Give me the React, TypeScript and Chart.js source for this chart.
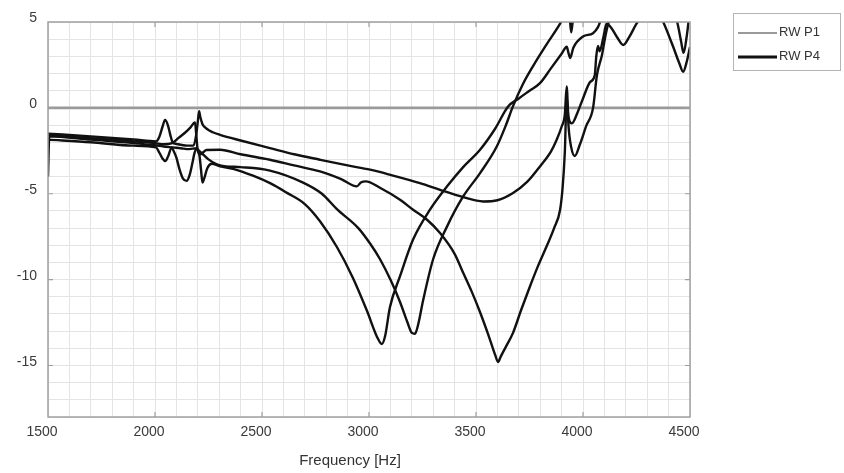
import { useEffect, useRef } from 'react';
import { Chart, registerables } from 'chart.js';

Chart.register(...registerables);

// Reference level (RW P1)
const refHz = [1500, 4500];
const refDb = [0, 0];

// RW P4 measurements, four positions
const curveAHz = [1500, 1506, 1700, 1900, 2000, 2040, 2080, 2120, 2160, 2195, 2208, 2215, 2222, 2230, 2245, 2265, 2304, 2365, 2458, 2540, 2617, 2700, 2771, 2850, 2925, 2990, 3040, 3060, 3075, 3098, 3145, 3206, 3285, 3365, 3440, 3519, 3590, 3650, 3700, 3750, 3799, 3850, 3900, 3924, 3932, 3940, 3955, 4000, 4047, 4070, 4090, 4200, 4350, 4420, 4440, 4458, 4470, 4485, 4495, 4500];
const curveADb = [-4.0, -1.65, -1.85, -2.05, -2.18, -2.25, -2.3, -2.35, -2.4, -2.35, -2.8, -3.6, -4.35, -4.1, -3.5, -3.25, -3.4, -3.55, -3.95, -4.4, -4.95, -5.6, -6.6, -8.1, -9.9, -11.8, -13.4, -13.75, -13.3, -11.6, -9.8, -7.67, -5.93, -4.57, -3.45, -2.44, -1.2, 0.08, 0.55, 1.0, 1.44, 2.3, 3.15, 3.56, 3.2, 2.9, 3.5, 4.15, 4.35, 4.7, 5.3, 6.3, 6.4, 5.6, 5.0, 3.9, 3.2, 4.2, 5.2, 5.6];

const curveBHz = [1500, 1700, 1900, 2005, 2020, 2035, 2048, 2062, 2078, 2085, 2100, 2115, 2130, 2148, 2162, 2175, 2185, 2195, 2215, 2250, 2304, 2400, 2537, 2692, 2780, 2850, 2950, 3005, 3051, 3100, 3145, 3180, 3200, 3215, 3230, 3253, 3300, 3365, 3440, 3519, 3597, 3640, 3673, 3720, 3766, 3830, 3893, 3910, 3935, 3945, 3955, 4000, 4200, 4500];
const curveBDb = [-1.85, -2.0, -2.2, -2.3, -2.6, -2.95, -3.1, -2.8, -2.3, -2.45, -2.9, -3.6, -4.1, -4.25, -3.9, -3.2, -2.6, -2.4, -2.6, -3.0, -3.35, -3.45, -3.65, -4.35, -5.0, -5.9, -7.0, -7.9, -8.8, -10.0, -11.3, -12.5, -13.1, -13.15, -12.6, -11.2, -8.8, -6.9, -5.16, -3.8, -2.25, -1.0, 0.1, 1.4, 2.42, 3.7, 4.9, 5.3, 5.5, 4.4, 5.4, 6.5, 7.0, 7.0];

const curveCHz = [1500, 1700, 1900, 2000, 2040, 2080, 2110, 2140, 2165, 2187, 2193, 2200, 2212, 2240, 2304, 2400, 2537, 2650, 2771, 2870, 2943, 2962, 2985, 3051, 3145, 3206, 3270, 3332, 3400, 3440, 3480, 3519, 3560, 3590, 3603, 3615, 3640, 3673, 3710, 3752, 3790, 3830, 3865, 3893, 3905, 3915, 3924, 3932, 3948, 3975, 4000, 4033, 4055, 4062, 4070, 4078, 4095, 4110, 4130, 4160, 4188, 4215, 4250, 4290, 4400, 4500];
const curveCDb = [-1.6, -1.76, -1.95, -2.05, -2.12, -2.05, -1.75, -1.45, -1.15, -0.85, -1.6, -2.5, -2.7, -2.45, -2.44, -2.7, -3.02, -3.35, -3.7, -4.15, -4.57, -4.35, -4.28, -4.65, -5.35, -5.93, -6.5, -7.29, -8.5, -9.6, -10.7, -11.9, -13.3, -14.4, -14.8, -14.5, -13.9, -13.1, -11.8, -10.4, -9.2, -8.06, -7.0, -5.93, -4.6, -2.6, 0.6, -0.5, -0.9, -0.25, 0.55, 1.5, 1.9, 3.0, 3.6, 3.3, 4.1, 4.9, 4.7, 4.1, 3.66, 4.1, 4.9, 5.6, 6.4, 6.6];

const curveDHz = [1500, 1700, 1900, 2005, 2020, 2035, 2047, 2060, 2072, 2082, 2100, 2150, 2180, 2192, 2200, 2206, 2212, 2222, 2240, 2270, 2304, 2400, 2537, 2650, 2771, 2900, 3005, 3100, 3238, 3332, 3440, 3533, 3600, 3673, 3740, 3799, 3850, 3877, 3900, 3915, 3924, 3932, 3945, 3962, 3985, 4015, 4047, 4065, 4089, 4105, 4120, 4150, 4250, 4320, 4375, 4420, 4450, 4468, 4485, 4500];
const curveDDb = [-1.5, -1.66, -1.84, -1.95, -1.7, -1.1, -0.7, -1.0, -1.6, -2.0, -2.1, -2.2, -2.2, -1.6, -0.8, -0.2, -0.55, -0.95, -1.2, -1.42, -1.57, -1.9, -2.34, -2.7, -3.02, -3.35, -3.6, -3.9, -4.38, -4.77, -5.2, -5.45, -5.38, -4.96, -4.3, -3.41, -2.55, -1.86, -1.1, -0.4, 1.25, -1.0, -2.3, -2.8, -2.15, -1.05, 0.0, 1.9, 3.1, 4.2, 5.0, 5.9, 6.6, 6.3, 5.0, 3.6, 2.6, 2.1, 2.7, 3.55];

// Axis extents and labelled ticks
const xMin = 1500;
const xMax = 4500;
const xLabelStep = 500;
const yMin = -18;
const yMax = 5;
const yLabelStep = 5;

const legendLabels = ['RW P1', 'RW P4'];
const xAxisTitle = 'Frequency [Hz]';

const FONT = '"Liberation Sans", Arial, Helvetica, sans-serif';
const REF_COLOR = '#9a9a9a';
const CURVE_COLOR = '#111111';

const toPoints = (hz: number[], db: number[]) => hz.map((x, i) => ({ x, y: db[i] }));

// Full frame around the plot with small inward ticks at labelled values
const framePlugin = {
  id: 'frame',
  afterDatasetsDraw(chart: any) {
    const { ctx, chartArea: a, scales } = chart;
    ctx.save();
    ctx.strokeStyle = '#a0a0a0';
    ctx.lineWidth = 1.5;
    ctx.strokeRect(a.left, a.top, a.right - a.left, a.bottom - a.top);
    ctx.lineWidth = 1.2;
    ctx.beginPath();
    for (let v = xMin + xLabelStep; v < xMax; v += xLabelStep) {
      const px = scales.x.getPixelForValue(v);
      ctx.moveTo(px, a.bottom); ctx.lineTo(px, a.bottom - 5);
      ctx.moveTo(px, a.top); ctx.lineTo(px, a.top + 5);
    }
    for (let v = -15; v < yMax; v += yLabelStep) {
      const py = scales.y.getPixelForValue(v);
      ctx.moveTo(a.left, py); ctx.lineTo(a.left + 5, py);
      ctx.moveTo(a.right, py); ctx.lineTo(a.right - 5, py);
    }
    ctx.stroke();
    ctx.restore();
  },
};

// Axis title under the frequency labels
const xTitlePlugin = {
  id: 'xTitle',
  afterDraw(chart: any) {
    const { ctx } = chart;
    ctx.save();
    ctx.fillStyle = '#333';
    ctx.font = `15px ${FONT}`;
    ctx.textAlign = 'center';
    ctx.textBaseline = 'middle';
    ctx.fillText(xAxisTitle, 350, 461);
    ctx.restore();
  },
};

// Boxed legend to the right of the plot
const legendPlugin = {
  id: 'boxLegend',
  afterDraw(chart: any) {
    const { ctx } = chart;
    ctx.save();
    ctx.fillStyle = '#ffffff';
    ctx.fillRect(733.5, 13.5, 107, 57);
    ctx.strokeStyle = '#b4b4b4';
    ctx.lineWidth = 1;
    ctx.strokeRect(733.5, 13.5, 107, 57);
    const rows = [
      { y: 33, color: REF_COLOR, width: 2 },
      { y: 57, color: CURVE_COLOR, width: 3 },
    ];
    ctx.font = `13px ${FONT}`;
    ctx.textBaseline = 'middle';
    ctx.textAlign = 'left';
    rows.forEach((r, i) => {
      ctx.strokeStyle = r.color;
      ctx.lineWidth = r.width;
      ctx.beginPath();
      ctx.moveTo(738, r.y);
      ctx.lineTo(777, r.y);
      ctx.stroke();
      ctx.fillStyle = '#333';
      ctx.fillText(legendLabels[i], 779, r.y - 1);
    });
    ctx.restore();
  },
};

export default function App() {
  const canvasRef = useRef<HTMLCanvasElement | null>(null);

  useEffect(() => {
    if (!canvasRef.current) return;
    const curve = (hz: number[], db: number[]) => ({
      label: legendLabels[1],
      data: toPoints(hz, db),
      borderColor: CURVE_COLOR,
      borderWidth: 2.4,
      pointRadius: 0,
      cubicInterpolationMode: 'monotone' as const,
      fill: false,
      order: 0,
    });
    const chart = new Chart(canvasRef.current, {
      type: 'line',
      data: {
        datasets: [
          curve(curveAHz, curveADb),
          curve(curveBHz, curveBDb),
          curve(curveCHz, curveCDb),
          curve(curveDHz, curveDDb),
          {
            label: legendLabels[0],
            data: toPoints(refHz, refDb),
            borderColor: REF_COLOR,
            borderWidth: 2.6,
            pointRadius: 0,
            fill: false,
            order: 1,
          },
        ],
      },
      options: {
        responsive: false,
        animation: false,
        layout: { padding: { left: 0, right: 154, top: 22, bottom: 0 } },
        plugins: { legend: { display: false }, tooltip: { enabled: false } },
        scales: {
          x: {
            type: 'linear',
            min: xMin,
            max: xMax,
            afterFit: (s: any) => { s.height = 56; },
            border: { display: false },
            grid: { color: '#e4e4e4', lineWidth: 1, drawTicks: false },
            ticks: {
              stepSize: 100,
              autoSkip: false,
              maxRotation: 0,
              padding: 7,
              labelOffset: -6,
              color: '#3a3a3a',
              font: { family: FONT, size: 14 },
              callback: (v: any) => (Number(v) % xLabelStep === 0 ? String(v) : ''),
            },
          },
          y: {
            type: 'linear',
            min: yMin,
            max: yMax,
            afterFit: (s: any) => { s.width = 48; },
            border: { display: false },
            grid: { color: '#e4e4e4', lineWidth: 1, drawTicks: false },
            ticks: {
              stepSize: 1,
              autoSkip: false,
              padding: 11,
              labelOffset: -3.5,
              color: '#3a3a3a',
              font: { family: FONT, size: 14 },
              callback: (v: any) => (Number(v) % yLabelStep === 0 ? String(v) : ''),
            },
          },
        },
      },
      plugins: [framePlugin, xTitlePlugin, legendPlugin],
    });
    return () => chart.destroy();
  }, []);

  return (
    <div style={{ position: 'absolute', left: 0, top: 0, width: 844, height: 473, background: '#fff' }}>
      <canvas ref={canvasRef} width={844} height={473} style={{ display: 'block' }} />
    </div>
  );
}
